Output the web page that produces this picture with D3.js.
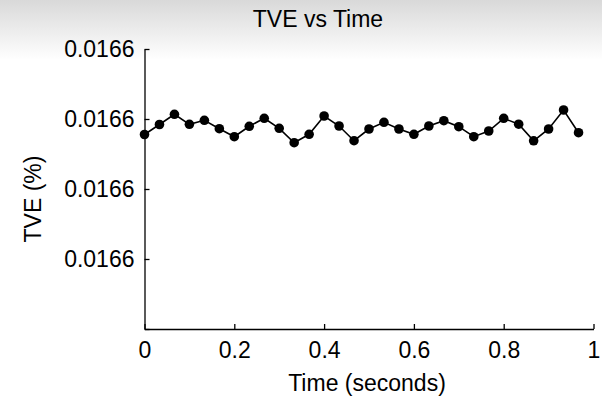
<!DOCTYPE html>
<html>
<head>
<meta charset="utf-8">
<script src="https://cdn.jsdelivr.net/npm/d3@7"></script>
<style>
  html, body { margin: 0; padding: 0; background: #fff; }
  svg { display: block; font-family: 'Liberation Sans', Arial, sans-serif; }
</style>
</head>
<body>
<svg id="chart"></svg>
<script>
// Samples every 1/30 s
const times = d3.range(30).map(i => i / 30)
const tve = [
  0.01659987786, 0.01659989214, 0.01659990671, 0.01659989243, 0.01659989814,
  0.01659988614, 0.01659987471, 0.01659988957, 0.01659990100, 0.01659988671,
  0.01659986614, 0.01659987814, 0.01659990429, 0.01659989000, 0.01659986900,
  0.01659988571, 0.01659989529, 0.01659988571, 0.01659987814, 0.01659989000,
  0.01659989757, 0.01659988900, 0.01659987471, 0.01659988286, 0.01659990100,
  0.01659989257, 0.01659986886, 0.01659988571, 0.01659991286, 0.01659988043
]
const xTicks = [0, 0.2, 0.4, 0.6, 0.8, 1]
const xTickLabels = ['0', '0.2', '0.4', '0.6', '0.8', '1']
const yTicks = [0.0165996, 0.0165997, 0.0165998, 0.0165999, 0.0166]
const yTickLabels = ['', '0.0166', '0.0166', '0.0166', '0.0166']

const width = 602
const height = 404
const margin = { top: 49, right: 8.5, bottom: 75, left: 144.5 }
const innerWidth = width - margin.left - margin.right
const innerHeight = height - margin.top - margin.bottom

const svg = d3.select('#chart')
  .attr('width', width)
  .attr('height', height)

// grey fade along the top edge
const grad = svg.append('defs').append('linearGradient')
  .attr('id', 'topfade')
  .attr('x1', 0).attr('y1', 0).attr('x2', 0).attr('y2', 1)
grad.append('stop').attr('offset', 0).attr('stop-color', '#d9d9d9')
grad.append('stop').attr('offset', 1).attr('stop-color', '#ffffff')
svg.append('rect')
  .attr('width', width)
  .attr('height', 60)
  .attr('fill', 'url(#topfade)')

const g = svg.append('g')
  .attr('transform', `translate(${margin.left},${margin.top})`)

const x = d3.scaleLinear()
  .domain([0, 1])
  .range([0, innerWidth])

const y = d3.scaleLinear()
  .domain([yTicks[0], yTicks[yTicks.length - 1]])
  .range([innerHeight, 0])

// Axes (ticks point inward like MATLAB)
const xAxis = g.append('g')
  .attr('transform', `translate(0,${innerHeight})`)
  .call(d3.axisBottom(x)
    .tickValues(xTicks)
    .tickFormat((d, i) => xTickLabels[i])
    .tickSizeInner(-5)
    .tickSizeOuter(0)
    .tickPadding(13))

const yAxis = g.append('g')
  .call(d3.axisLeft(y)
    .tickValues(yTicks)
    .tickFormat((d, i) => yTickLabels[i])
    .tickSizeInner(-5)
    .tickSizeOuter(0)
    .tickPadding(10))

for (const ax of [xAxis, yAxis]) {
  ax.select('.domain').attr('stroke', '#000').attr('stroke-width', 1.3)
  ax.selectAll('.tick line').attr('stroke', '#000').attr('stroke-width', 1.3)
  ax.selectAll('.tick text')
    .attr('fill', '#000')
    .attr('font-size', '23px')
    .attr('font-family', "'Liberation Sans', Arial, sans-serif")
}

// Line + markers
const line = d3.line()
  .x((d, i) => x(times[i]))
  .y(d => y(d))

g.append('path')
  .datum(tve)
  .attr('fill', 'none')
  .attr('stroke', '#000')
  .attr('stroke-width', 1.6)
  .attr('d', line)

g.selectAll('.pt')
  .data(tve)
  .enter().append('circle')
  .attr('class', 'pt')
  .attr('cx', (d, i) => x(times[i]))
  .attr('cy', d => y(d))
  .attr('r', 4.8)
  .attr('fill', '#000')

// Titles
svg.append('text')
  .attr('x', 318)
  .attr('y', 27)
  .attr('text-anchor', 'middle')
  .attr('font-size', '23px')
  .attr('fill', '#000')
  .text('TVE vs Time')

svg.append('text')
  .attr('x', 367)
  .attr('y', 391)
  .attr('text-anchor', 'middle')
  .attr('font-size', '23px')
  .attr('fill', '#000')
  .text('Time (seconds)')

svg.append('text')
  .attr('transform', `translate(41,${margin.top + innerHeight / 2 + 10}) rotate(-90)`)
  .attr('text-anchor', 'middle')
  .attr('font-size', '23px')
  .attr('fill', '#000')
  .text('TVE (%)')
</script>
</body>
</html>
